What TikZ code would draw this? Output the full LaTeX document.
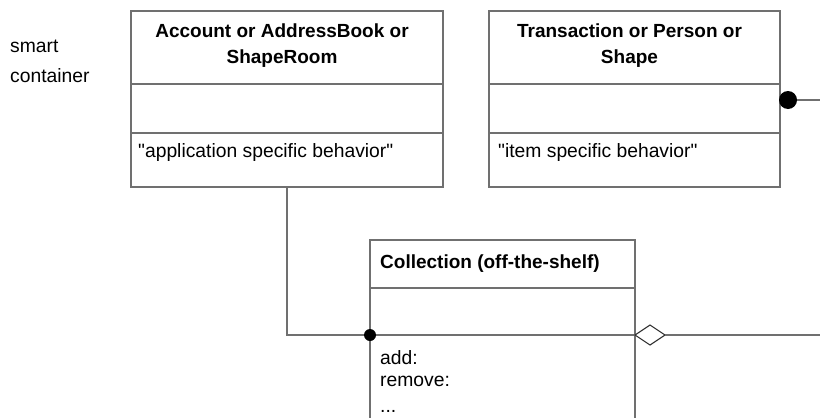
\documentclass[tikz,border=0pt]{standalone}
\usepackage{fontspec}
\setmainfont{Liberation Sans}
\usetikzlibrary{arrows.meta,shapes.geometric}
\definecolor{linegray}{HTML}{707070}
\begin{document}
\begin{tikzpicture}[x=1pt,y=-1pt,
  comp/.style={draw=linegray, line width=1.4pt, rectangle, anchor=north west, inner sep=0pt, outer sep=0pt},
  hdr/.style={font=\fontsize{19}{26}\selectfont\bfseries, align=center, inner sep=0pt},
  txt/.style={font=\fontsize{19.3}{22}\selectfont, align=left, inner sep=0pt},
  conn/.style={draw=linegray, line width=1.4pt},
  dotn/.style={circle, fill=black, inner sep=0pt, outer sep=0pt},
  agg/.style={diamond, draw=black!80, fill=white, line width=1.1pt, minimum width=30pt, minimum height=20pt, inner sep=0pt, outer sep=0pt, anchor=west}]
\clip (0,0) rectangle (820,418);
\fill[white] (0,0) rectangle (820,418);
% label
\node[txt, anchor=west, font=\fontsize{19.3}{30}\selectfont] (lbl) at (10,61) {smart\\container};
% box 1
\node[comp, minimum width=312pt, minimum height=73pt] (b1h) at (131,11) {};
\node[comp, minimum width=312pt, minimum height=49pt] (b1a) at (b1h.south west) {};
\node[comp, minimum width=312pt, minimum height=54pt] (b1o) at (b1a.south west) {};
\node[hdr] (t1) at ([xshift=-5pt,yshift=2pt]b1h.center) {Account or AddressBook or\\ShapeRoom};
\node[txt, anchor=west] (o1) at ([xshift=7pt,yshift=-20pt]b1o.north west) {\textquotedbl application specific behavior\textquotedbl};
% box 2
\node[comp, minimum width=291pt, minimum height=73pt] (b2h) at (489,11) {};
\node[comp, minimum width=291pt, minimum height=49pt] (b2a) at (b2h.south west) {};
\node[comp, minimum width=291pt, minimum height=54pt] (b2o) at (b2a.south west) {};
\node[hdr] (t2) at ([xshift=-5pt,yshift=2pt]b2h.center) {Transaction or Person or\\Shape};
\node[txt, anchor=west] (o2) at ([xshift=9pt,yshift=-20pt]b2o.north west) {\textquotedbl item specific behavior\textquotedbl};
% box 3
\node[comp, minimum width=265pt, minimum height=48pt] (b3h) at (370,240) {};
\node[comp, minimum width=265pt, minimum height=47pt] (b3a) at (b3h.south west) {};
\node[comp, minimum width=265pt, minimum height=100pt] (b3o) at (b3a.south west) {};
\node[hdr, anchor=west] (t3) at ([xshift=10pt]b3h.west) {Collection (off-the-shelf)};
\node[txt, anchor=north west] (o3) at ([xshift=10pt,yshift=-15pt]b3o.north west) {add:\\remove:\\[4pt]...};
% connectors
\node[dotn, minimum size=12pt] (d1) at (b3a.south west) {};
\draw[conn] (b1o.south) |- (d1.west);
\node[dotn, minimum size=18pt] (d2) at (788,100) {};
\coordinate (e2) at (825,100);
\draw[conn] (d2.east) -- (e2);
\node[agg] (dia) at (b3a.south east) {};
\coordinate (e3) at (825,335);
\draw[conn] (dia.east) -- (e3);
\end{tikzpicture}
\end{document}
